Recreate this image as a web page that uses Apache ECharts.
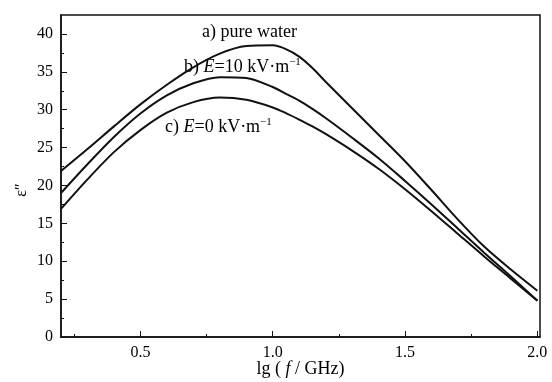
<!DOCTYPE html>
<html>
<head>
<meta charset="utf-8">
<script src="https://cdn.jsdelivr.net/npm/echarts@6/dist/echarts.min.js"></script>
<style>
  html, body { margin: 0; padding: 0; background: #fff; }
  #chart { width: 552px; height: 382px; }
</style>
</head>
<body>
<div id="chart"></div>
<script>
// lg(f/GHz) sample positions
const lgF = [0.2, 0.3, 0.4, 0.5, 0.6, 0.7, 0.8, 0.9, 1.0, 1.05, 1.1, 1.15, 1.2, 1.3, 1.4, 1.5, 1.6, 1.7, 1.8, 1.9, 2.0];

// a) pure water
const pureWater = [21.9, 24.8, 27.8, 30.7, 33.3, 35.6, 37.4, 38.4, 38.5, 38.0, 37.0, 35.5, 33.7, 30.2, 26.7, 23.2, 19.4, 15.5, 11.9, 8.9, 6.1];
// b) E = 10 kV/m
const field10 = [19.0, 22.8, 26.4, 29.5, 31.9, 33.5, 34.3, 34.2, 33.0, 32.1, 31.2, 30.1, 28.9, 26.3, 23.6, 20.6, 17.5, 14.3, 11.1, 8.0, 4.8];
// c) E = 0 kV/m
const field0 = [16.9, 20.8, 24.4, 27.3, 29.6, 31.0, 31.6, 31.3, 30.3, 29.55, 28.7, 27.8, 26.8, 24.6, 22.2, 19.5, 16.6, 13.6, 10.6, 7.7, 4.8];

// tick labels
const xMajor = [0.5, 1.0, 1.5, 2.0];
const xMinor = [0.25, 0.75, 1.25, 1.75];
const yMajor = [0, 5, 10, 15, 20, 25, 30, 35, 40];
const yMinor = [2.5, 7.5, 12.5, 17.5, 22.5, 27.5, 32.5, 37.5];

const serif = 'Liberation Serif';
const ink = '#111';

const pair = (ys) => lgF.map((x, i) => [x, ys[i]]);

const chart = echarts.init(document.getElementById('chart'));

const lineSeries = (name, ys) => ({
  name,
  type: 'line',
  data: pair(ys),
  symbol: 'none',
  smooth: 0.3,
  lineStyle: { color: ink, width: 2 },
  xAxisIndex: 0,
  yAxisIndex: 0,
});

const supRich = {
  i: { fontStyle: 'italic', fontSize: 18, fontFamily: serif, fill: '#000' },
  s: { fontSize: 11, fontFamily: serif, fill: '#000', verticalAlign: 'top', padding: [0, 0, 9, 0] },
};

chart.setOption({
  backgroundColor: '#fff',
  animation: false,
  textStyle: { fontFamily: serif },
  // grid border gives the closed frame (top and right edges)
  grid: {
    left: 61, right: 12, top: 15, bottom: 45,
    outerBoundsMode: 'none',
    show: true, borderColor: ink, borderWidth: 1.5,
  },
  xAxis: [
    {
      type: 'value', position: 'bottom', min: 0.2, max: 2.01,
      axisLine: { lineStyle: { color: ink, width: 1.5 } },
      axisTick: { inside: true, length: 6, customValues: xMajor, lineStyle: { color: ink } },
      axisLabel: {
        customValues: xMajor, color: '#000', fontSize: 16, fontFamily: serif, margin: 8,
        formatter: (v) => v.toFixed(1),
      },
      splitLine: { show: false },
      name: 'lg ( {i|f} / GHz)',
      nameLocation: 'middle',
      nameGap: 23,
      nameMoveOverlap: false,
      nameTextStyle: {
        color: '#000', fontSize: 18, fontFamily: serif,
        rich: { i: { fontStyle: 'italic', fontSize: 18, fontFamily: serif, color: '#000' } },
      },
    },
    {
      type: 'value', position: 'bottom', min: 0.2, max: 2.01,
      axisLine: { show: false },
      axisTick: { inside: true, length: 3, customValues: xMinor, lineStyle: { color: ink } },
      axisLabel: { show: false },
      splitLine: { show: false },
    },
  ],
  yAxis: [
    {
      type: 'value', position: 'left', min: 0, max: 42.5,
      axisLine: { show: true, lineStyle: { color: ink, width: 1.5 } },
      axisTick: { show: true, inside: true, length: 6, customValues: yMajor, lineStyle: { color: ink } },
      axisLabel: { customValues: yMajor, color: '#000', fontSize: 16, fontFamily: serif, margin: 8 },
      splitLine: { show: false },
      name: 'ε″',
      nameLocation: 'middle',
      nameRotate: 90,
      nameGap: 31,
      nameMoveOverlap: false,
      nameTextStyle: { color: '#000', fontSize: 16, fontFamily: serif, padding: [0, 0, 0, -28] },
    },
    {
      type: 'value', position: 'left', min: 0, max: 42.5,
      axisLine: { show: false },
      axisTick: { show: true, inside: true, length: 3, customValues: yMinor, lineStyle: { color: ink } },
      axisLabel: { show: false },
      splitLine: { show: false },
    },
  ],
  series: [
    lineSeries('a) pure water', pureWater),
    lineSeries('b) E=10 kV·m-1', field10),
    lineSeries('c) E=0 kV·m-1', field0),
  ],
  graphic: [
    {
      type: 'text', left: 202, top: 23,
      style: { text: 'a) pure water', font: '18px "Liberation Serif"', fill: '#000' },
    },
    {
      type: 'text', left: 184, top: 57,
      style: { text: 'b) {i|E}=10 kV·m{s|−1}', font: '18px "Liberation Serif"', fill: '#000', rich: supRich },
    },
    {
      type: 'text', left: 165, top: 117,
      style: { text: 'c) {i|E}=0 kV·m{s|−1}', font: '18px "Liberation Serif"', fill: '#000', rich: supRich },
    },
  ],
});
</script>
</body>
</html>
